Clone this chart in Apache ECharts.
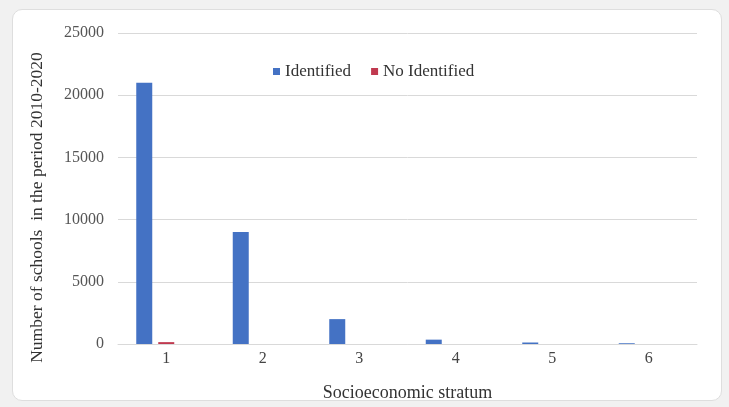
<!DOCTYPE html>
<html>
<head>
<meta charset="utf-8">
<script src="https://cdn.jsdelivr.net/npm/echarts@6/dist/echarts.min.js"></script>
<style>
  html, body { margin: 0; padding: 0; background: #f1f1f1; width: 729px; height: 407px; overflow: hidden; }
  #card { position: absolute; left: 12px; top: 9px; width: 708px; height: 390px; background: #fff; border: 1px solid #dedede; border-radius: 10px; }
  #chart { position: absolute; left: 0; top: 0; width: 729px; height: 407px; }
</style>
</head>
<body>
<div id="card"></div>
<div id="chart"></div>
<script>
const categories = ['1', '2', '3', '4', '5', '6'];
const identified = [21000, 9000, 2000, 350, 120, 60];
const noIdentified = [150, 0, 0, 0, 0, 0];
const yTicks = [0, 5000, 10000, 15000, 20000, 25000];

const font = 'Liberation Serif';
const chart = echarts.init(document.getElementById('chart'), null, { renderer: 'canvas' });
chart.setOption({
  animation: false,
  backgroundColor: 'transparent',
  grid: { left: 118, right: 32, top: 33, bottom: 63 },
  legend: {
    data: ['Identified', 'No Identified'],
    left: 268, top: 58,
    itemWidth: 7, itemHeight: 7, itemGap: 20,
    icon: 'rect',
    textStyle: { fontFamily: font, fontSize: 17, color: '#333' }
  },
  xAxis: {
    type: 'category',
    data: categories,
    axisLine: { lineStyle: { color: '#d9d9d9' } },
    axisTick: { show: false },
    axisLabel: { fontFamily: font, fontSize: 16, color: '#444', margin: 7 },
    name: 'Socioeconomic stratum',
    nameLocation: 'middle',
    nameGap: 40,
    nameTextStyle: { fontFamily: font, fontSize: 18, color: '#333' }
  },
  yAxis: {
    type: 'value',
    min: yTicks[0], max: yTicks[yTicks.length - 1], interval: 5000,
    axisLine: { show: false },
    axisTick: { show: false },
    splitLine: { lineStyle: { color: '#d9d9d9' } },
    axisLabel: { fontFamily: font, fontSize: 16, color: '#555', margin: 14, formatter: v => String(v) },
    name: 'Number of schools  in the period 2010-2020',
    nameLocation: 'middle',
    nameGap: 72,
    nameTextStyle: { fontFamily: font, fontSize: 17.5, color: '#333', padding: [0, 38, 0, 0] }
  },
  series: [
    { name: 'Identified', type: 'bar', data: identified, barWidth: 16, barGap: '37.5%', itemStyle: { color: '#4472C4' } },
    { name: 'No Identified', type: 'bar', data: noIdentified, barWidth: 16, barGap: '37.5%', itemStyle: { color: '#C0394F' } },
    { name: 'spacer', type: 'bar', data: [], barWidth: 16, barGap: '37.5%', silent: true }
  ]
});
</script>
</body>
</html>
